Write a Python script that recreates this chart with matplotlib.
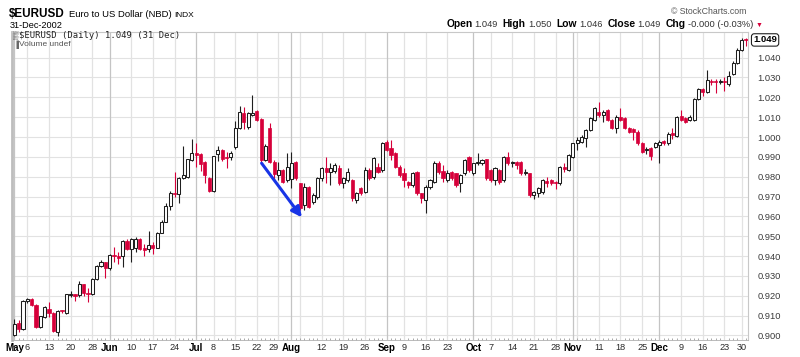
import numpy as np
import pandas as pd
import matplotlib
matplotlib.use("Agg")
import matplotlib.pyplot as plt
from matplotlib.transforms import blended_transform_factory

plt.rcParams['font.family'] = ['Liberation Sans', 'DejaVu Sans']

# ---------------- data ----------------
holidays = ['2002-05-27', '2002-07-04', '2002-09-02', '2002-11-28', '2002-12-25']
dates = pd.bdate_range('2002-05-01', '2002-12-31')
dates = dates[~dates.isin(pd.to_datetime(holidays))]

opens = [
 .9003, .9062, .9032, .9172, .9185, .9153, .9042, .9095, .9134, .9115,
 .9020, .9126, .9115, .9205, .9208, .9204, .9258, .9213, .9207, .9285,
 .9350, .9368, .9342, .9405, .9400, .9398, .9476, .9438, .9440, .9487,
 .9440, .9435, .9455, .9442, .9518, .9573, .9650, .9720, .9712, .9795,
 .9800, .9885, .9918, .9913, .9872, .9795, .9728, .9912, .9935, .9897,
 .9897, .9952, 1.0045, 1.0119, 1.0052, 1.0110, 1.0132, 1.0089, .9884, 1.0045,
 .9876, .9809, .9834, .9783, .9790, .9876, .9767, .9658, .9750, .9674,
 .9700, .9792, .9842, .9825, .9830, .9842, .9767, .9783, .9783, .9683,
 .9741, .9725, .9834, .9800, .9851, .9834, .9976, .9943, .9918, .9851,
 .9817, .9775, .9758, .9825, .9716, .9683, .9750, .9775, .9871, .9830,
 .9784, .9825, .9817, .9767, .9817, .9901, .9817, .9867, .9870, .9887,
 .9834, .9784, .9834, .9784, .9901, .9867, .9876, .9876, .9817, .9817,
 .9708, .9716, .9725, .9778, .9784, .9775, .9767, .9850, .9834, .9901,
 .9968, .9976, .9993, 1.0035, 1.0086, 1.0128, 1.0111, 1.0136, 1.0086, 1.0044,
 1.0103, 1.0094, 1.0044, 1.0039, 1.0027, .9968, .9935, .9943, .9951, .9960,
 .9978, .9968, 1.0019, 1.0005, 1.0105, 1.0094, 1.0086, 1.0086, 1.0190, 1.0240,
 1.0228, 1.0283, 1.0283, 1.0276, 1.0283, 1.0265, 1.0315, 1.0375, 1.0440, 1.0492,
]
highs = [
 .9085, .9080, .9180, .9190, .9190, .9160, .9100, .9150, .9170, .9120,
 .9128, .9130, .9210, .9225, .9210, .9275, .9260, .9237, .9290, .9355,
 .9380, .9370, .9410, .9445, .9420, .9480, .9485, .9490, .9495, .9490,
 .9460, .9525, .9470, .9520, .9580, .9665, .9730, .9825, .9800, .9955,
 .9890, .9990, .9970, .9920, .9880, .9800, .9905, .9955, .9940, .9925,
 .9930, 1.0080, 1.0155, 1.0153, 1.0125, 1.0211, 1.0135, 1.0095, .9965, 1.0070,
 .9884, .9876, .9840, .9920, .9925, .9880, .9770, .9767, .9755, .9720,
 .9800, .9850, .9900, .9867, .9870, .9860, .9800, .9842, .9790, .9725,
 .9750, .9850, .9842, .9900, .9870, .9975, .9985, .9985, .9925, .9860,
 .9842, .9780, .9825, .9830, .9720, .9760, .9790, .9880, .9880, .9858,
 .9834, .9830, .9820, .9815, .9890, .9905, .9870, .9918, .9890, .9890,
 .9840, .9850, .9840, .9905, .9926, .9880, .9880, .9880, .9840, .9820,
 .9730, .9750, .9790, .9800, .9790, .9780, .9855, .9870, .9915, .9972,
 1.0002, 1.0010, 1.0040, 1.0100, 1.0150, 1.0178, 1.0135, 1.0140, 1.0090, 1.0110,
 1.0145, 1.0100, 1.0050, 1.0045, 1.0035, .9975, .9950, .9950, .9975, .9985,
 .9985, 1.0025, 1.0045, 1.0105, 1.0136, 1.0100, 1.0110, 1.0195, 1.0245, 1.0245,
 1.0338, 1.0290, 1.0290, 1.0290, 1.0300, 1.0330, 1.0385, 1.0450, 1.0500, 1.0500,
]
lows = [
 .8995, .9020, .9030, .9165, .9150, .9038, .9040, .9090, .9095, .9020,
 .8995, .9115, .9110, .9195, .9175, .9195, .9200, .9170, .9205, .9282,
 .9345, .9290, .9330, .9370, .9360, .9345, .9430, .9370, .9420, .9430,
 .9400, .9420, .9410, .9440, .9515, .9570, .9630, .9700, .9665, .9790,
 .9795, .9880, .9850, .9830, .9770, .9725, .9725, .9880, .9880, .9845,
 .9885, .9940, 1.0040, 1.0040, 1.0040, 1.0105, 1.0080, .9875, .9878, .9870,
 .9783, .9783, .9770, .9775, .9745, .9785, .9632, .9632, .9640, .9660,
 .9690, .9780, .9770, .9758, .9820, .9760, .9741, .9775, .9680, .9670,
 .9710, .9720, .9785, .9790, .9820, .9825, .9930, .9884, .9845, .9800,
 .9750, .9745, .9750, .9710, .9666, .9616, .9740, .9770, .9815, .9775,
 .9775, .9785, .9750, .9725, .9810, .9825, .9810, .9860, .9860, .9785,
 .9775, .9760, .9765, .9775, .9860, .9850, .9840, .9810, .9810, .9700,
 .9690, .9700, .9715, .9750, .9760, .9740, .9760, .9825, .9830, .9895,
 .9935, .9970, .9950, 1.0030, 1.0080, 1.0103, 1.0077, 1.0080, 1.0040, 1.0020,
 1.0080, 1.0040, 1.0020, .9985, .9960, .9920, .9915, .9885, .9945, .9868,
 .9960, .9960, .9990, 1.0000, 1.0080, 1.0070, 1.0080, 1.0080, 1.0185, 1.0205,
 1.0220, 1.0260, 1.0220, 1.0268, 1.0230, 1.0255, 1.0310, 1.0370, 1.0435, 1.0460,
]
closes = [
 .9060, .9035, .9172, .9182, .9155, .9042, .9097, .9145, .9113, .9024,
 .9125, .9122, .9207, .9208, .9197, .9258, .9212, .9210, .9285, .9352,
 .9372, .9341, .9406, .9398, .9390, .9476, .9435, .9486, .9488, .9437,
 .9430, .9458, .9440, .9518, .9574, .9650, .9720, .9712, .9795, .9808,
 .9888, .9918, .9910, .9863, .9808, .9728, .9902, .9935, .9890, .9893,
 .9918, 1.0045, 1.0125, 1.0074, 1.0119, 1.0119, 1.0086, .9884, .9955, .9876,
 .9812, .9834, .9775, .9851, .9867, .9792, .9641, .9750, .9649, .9708,
 .9792, .9842, .9825, .9842, .9859, .9767, .9792, .9825, .9691, .9716,
 .9716, .9834, .9792, .9893, .9825, .9968, .9935, .9909, .9851, .9809,
 .9783, .9758, .9817, .9716, .9691, .9750, .9784, .9871, .9825, .9792,
 .9817, .9792, .9758, .9809, .9884, .9834, .9867, .9876, .9884, .9792,
 .9784, .9842, .9775, .9901, .9867, .9876, .9859, .9817, .9825, .9708,
 .9725, .9741, .9784, .9770, .9767, .9767, .9851, .9838, .9910, .9968,
 .9985, 1.0002, 1.0035, 1.0094, 1.0145, 1.0111, 1.0128, 1.0086, 1.0044, 1.0103,
 1.0086, 1.0044, 1.0027, 1.0027, .9968, .9926, .9940, .9905, .9968, .9976,
 .9968, 1.0015, 1.0010, 1.0099, 1.0086, 1.0077, 1.0103, 1.0190, 1.0240, 1.0228,
 1.0287, 1.0278, 1.0275, 1.0283, 1.0275, 1.0305, 1.0375, 1.0440, 1.0490, 1.0489,
]

tick_dates = ['2002-05-01', '2002-05-06', '2002-05-13', '2002-05-20', '2002-05-28',
              '2002-06-03', '2002-06-10', '2002-06-17', '2002-06-24',
              '2002-07-01', '2002-07-08', '2002-07-15', '2002-07-22', '2002-07-29',
              '2002-08-01', '2002-08-12', '2002-08-19', '2002-08-26',
              '2002-09-03', '2002-09-09', '2002-09-16', '2002-09-23',
              '2002-10-01', '2002-10-07', '2002-10-14', '2002-10-21', '2002-10-28',
              '2002-11-01', '2002-11-11', '2002-11-18', '2002-11-25',
              '2002-12-02', '2002-12-09', '2002-12-16', '2002-12-23', '2002-12-30']
tick_labels = ['May', '6', '13', '20', '28', 'Jun', '10', '17', '24', 'Jul', '8', '15', '22', '29',
               'Aug', '12', '19', '26', 'Sep', '9', '16', '23', 'Oct', '7', '14', '21', '28',
               'Nov', '11', '18', '25', 'Dec', '9', '16', '23', '30']
month_labels = ['May', 'Jun', 'Jul', 'Aug', 'Sep', 'Oct', 'Nov', 'Dec']
extra_grid_dates = ['2002-08-05', '2002-11-04']
price_ticks = [0.900, 0.910, 0.920, 0.930, 0.940, 0.950, 0.960, 0.970, 0.980,
               0.990, 1.000, 1.010, 1.020, 1.030, 1.040]

# annotation arrow (trading-day index, price)
arrow_start = (57.1, 0.9868)
arrow_end = (66.4, 0.9595)

# ---------------- figure ----------------
W, H = 800, 357
fig = plt.figure(figsize=(W / 100, H / 100), dpi=100)
fig.patch.set_facecolor('white')
ax = fig.add_axes([12 / W, 17 / H, 736 / W, 308 / H])

xi = np.arange(len(dates))
o = np.array(opens); h = np.array(highs); l = np.array(lows); c = np.array(closes)
up = c >= o
red = '#d6003a'
dark = '#1e1e1e'

ax.vlines(xi[up], l[up], h[up], color=dark, lw=0.8, zorder=2)
ax.vlines(xi[~up], l[~up], h[~up], color=red, lw=0.8, zorder=2)
body_lo = np.minimum(o, c)
body_h = np.maximum(np.abs(c - o), 0.0002)
ax.bar(xi[up], body_h[up], bottom=body_lo[up], width=0.72, facecolor='white',
       edgecolor=dark, lw=0.75, zorder=3)
ax.bar(xi[~up], body_h[~up], bottom=body_lo[~up], width=0.72, facecolor=red,
       edgecolor=red, lw=0.5, zorder=3)

ax.set_xlim(-0.55, len(dates) - 0.55)
ax.set_ylim(0.89773, 1.05290)

# grid
date_index = {d.strftime('%Y-%m-%d'): k for k, d in enumerate(dates)}
tick_idx = [date_index[d] for d in tick_dates]
for p in price_ticks:
    ax.axhline(p, color='#e2e2e2', lw=0.8, zorder=0)
for k, lab in zip(tick_idx, tick_labels):
    col = '#c4c4c4' if lab in month_labels else '#e2e2e2'
    ax.axvline(k, color=col, lw=0.9, zorder=0)
for d in extra_grid_dates:
    ax.axvline(date_index[d], color='#e2e2e2', lw=0.9, zorder=0)

# axes styling
for s in ['top', 'right']:
    ax.spines[s].set_color('#c8c8c8'); ax.spines[s].set_linewidth(0.8)
ax.spines['left'].set_color('#bdbdbd'); ax.spines['left'].set_linewidth(2.0)
ax.spines['bottom'].set_color('#b0b0b0'); ax.spines['bottom'].set_linewidth(0.6)

ax.yaxis.tick_right()
ax.set_yticks(price_ticks)
ax.set_yticklabels([f'{v:.3f}' for v in price_ticks])
ax.tick_params(axis='y', length=0, pad=7, labelsize=6.7, labelcolor='#3a3a3a')

ax.set_xticks(tick_idx)
ax.set_xticklabels(tick_labels)
ax.tick_params(axis='x', length=0, pad=2.5, labelsize=6.6, labelcolor='#2a2a2a')
xlabels = ax.get_xticklabels()
for k, t in enumerate(xlabels):
    if t.get_text() in month_labels:
        t.set_fontweight('bold'); t.set_color('black'); t.set_fontsize(7.0)
    # "29" sits right next to "Aug" in the reference
    if t.get_text() == '29' and k + 1 < len(xlabels) and xlabels[k + 1].get_text() == 'Aug':
        t.set_horizontalalignment('right')
ax.set_xticks(xi, minor=True)
ax.tick_params(axis='x', which='minor', length=1.8, direction='in', color='#9a9a9a', width=0.6)

# last price tag
trans = blended_transform_factory(ax.transAxes, ax.transData)
ax.text(1.007, c[-1], f'{c[-1]:.3f}', transform=trans, ha='left', va='center',
        fontsize=6.8, fontweight='bold', color='black', clip_on=False,
        bbox=dict(boxstyle='round,pad=0.18,rounding_size=0.3', fc='white', ec='#222222', lw=0.8))

# arrow annotation
ax.annotate('', xy=arrow_end, xytext=arrow_start,
            arrowprops=dict(arrowstyle='-|>', color='#1834e6', lw=2.2, mutation_scale=15,
                            shrinkA=0, shrinkB=0), zorder=5)

# ---------------- header texts ----------------
def fx(px):
    return px / W

def fy(py):
    return 1 - py / H

fig.text(fx(9), fy(17), '$EURUSD', fontsize=8.4, fontweight='bold', va='baseline')
fig.text(fx(69), fy(17), 'Euro to US Dollar (NBD)', fontsize=6.8, va='baseline')
fig.text(fx(174), fy(17), 'INDX', fontsize=6.0, va='baseline')
fig.text(fx(10), fy(28), '31-Dec-2002', fontsize=6.6, va='baseline')
fig.text(fx(746), fy(14), '\u00a9 StockCharts.com', fontsize=6.3, color='#555555',
         ha='right', va='baseline')

fig.canvas.draw()
renderer = fig.canvas.get_renderer()
pieces = [('Open', True, 2), ('1.049', False, 5), ('High', True, 2), ('1.050', False, 5),
          ('Low', True, 2), ('1.046', False, 5), ('Close', True, 2), ('1.049', False, 5),
          ('Chg', True, 2), ('-0.000 (-0.03%)', False, 3)]
texts = []
for s, bold, gap in pieces:
    if bold:
        t = fig.text(0, fy(27), s, fontsize=7.4, fontweight='bold', va='baseline')
    else:
        t = fig.text(0, fy(27), s, fontsize=6.7, color='#333333', va='baseline')
    texts.append((t, gap))
widths = [t.get_window_extent(renderer).width for t, _ in texts]
total = sum(widths) + sum(g for _, g in texts)
xcur = 756 - total
for (t, gap), w in zip(texts, widths):
    t.set_x(fx(xcur))
    xcur += w + gap
fig.text(fx(xcur), fy(25), '\u25bc', fontsize=5.0, color=red, va='center')

# in-chart labels
fig.text(fx(13), fy(36), '\u2592', fontsize=5.5, color='#444444', va='center')
fig.text(fx(19), fy(36), '$EURUSD (Daily) 1.049 (31 Dec)', family='DejaVu Sans Mono',
         fontsize=6.4, color='#222222', va='center')
fig.text(fx(13), fy(44.5), '\u2590', fontsize=5, color='#666666', va='center')
fig.text(fx(19), fy(44.5), 'Volume undef', fontsize=6.0, color='#555555', va='center')

fig.savefig('out.png', dpi=100, facecolor='white')
